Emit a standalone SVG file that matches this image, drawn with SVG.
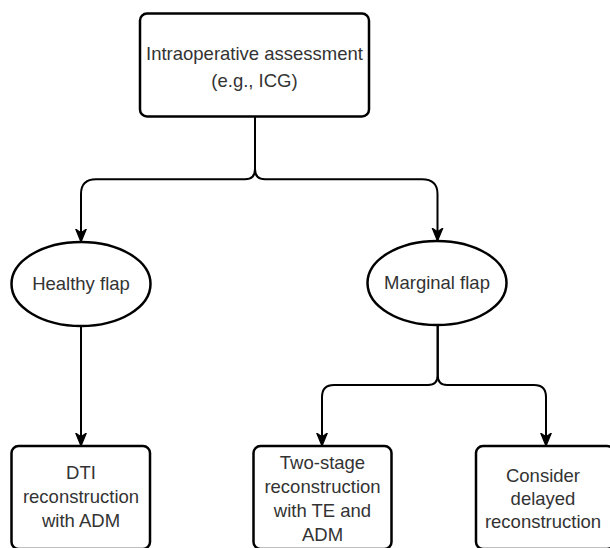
<svg xmlns="http://www.w3.org/2000/svg" width="610" height="548" viewBox="0 0 610 548">
<defs>
<style>
.node{fill:#fff;stroke:#000;stroke-width:2.5}
.lbl{font-family:"Liberation Sans",Arial,Helvetica,sans-serif;font-size:18.5px;fill:#333;text-anchor:middle;dominant-baseline:central}
.edge{fill:none;stroke:#000;stroke-width:2}
</style>
<marker id="arr" markerUnits="userSpaceOnUse" markerWidth="14" markerHeight="14" viewBox="0 0 12 10" refX="11" refY="5" orient="auto">
<path d="M0,0.5 L11,5 L0,9.5 L3,5 Z" fill="#000" stroke="#000" stroke-width="1"/>
</marker>
</defs>
<rect width="610" height="548" fill="#fff"/>
<g id="connectors">
<path class="edge" d="M255,117 V169 Q255,179.3 245,179.3 H96 Q81,179.3 81,194 V242" marker-end="url(#arr)"/>
<path class="edge" d="M255,117 V169 Q255,179.3 265,179.3 H422 Q437.5,179.3 437.5,194 V241" marker-end="url(#arr)"/>
<path class="edge" d="M81,326 V446" marker-end="url(#arr)"/>
<path class="edge" d="M437.7,325 V375 Q437.7,385 428,385 H334 Q322,385 322,397 V446" marker-end="url(#arr)"/>
<path class="edge" d="M437.7,325 V375 Q437.7,385 447,385 H534 Q546,385 546,397 V446" marker-end="url(#arr)"/>
</g>
<g id="intraop">
<rect class="node" x="140" y="13.5" width="229" height="103" rx="7"/>
<text class="lbl" x="254.5" y="53">Intraoperative assessment</text>
<text class="lbl" x="254.5" y="80">(e.g., ICG)</text>
</g>
<g id="healthy">
<ellipse class="node" cx="81" cy="284" rx="69.5" ry="42"/>
<text class="lbl" x="81" y="283">Healthy flap</text>
</g>
<g id="marginal">
<ellipse class="node" cx="437" cy="283" rx="69.5" ry="42"/>
<text class="lbl" x="437" y="282">Marginal flap</text>
</g>
<g id="dti">
<rect class="node" x="11.5" y="446" width="138.5" height="103" rx="7"/>
<text class="lbl" x="81" y="472">DTI</text>
<text class="lbl" x="81" y="496">reconstruction</text>
<text class="lbl" x="81" y="520">with ADM</text>
</g>
<g id="twostage">
<rect class="node" x="253.5" y="446" width="138" height="103" rx="7"/>
<text class="lbl" x="322.5" y="462">Two-stage</text>
<text class="lbl" x="322.5" y="486">reconstruction</text>
<text class="lbl" x="322.5" y="510">with TE and</text>
<text class="lbl" x="322.5" y="534">ADM</text>
</g>
<g id="delayed">
<rect class="node" x="476" y="446" width="138" height="103" rx="7"/>
<text class="lbl" x="543" y="475">Consider</text>
<text class="lbl" x="543" y="498">delayed</text>
<text class="lbl" x="543" y="521">reconstruction</text>
</g>
</svg>
